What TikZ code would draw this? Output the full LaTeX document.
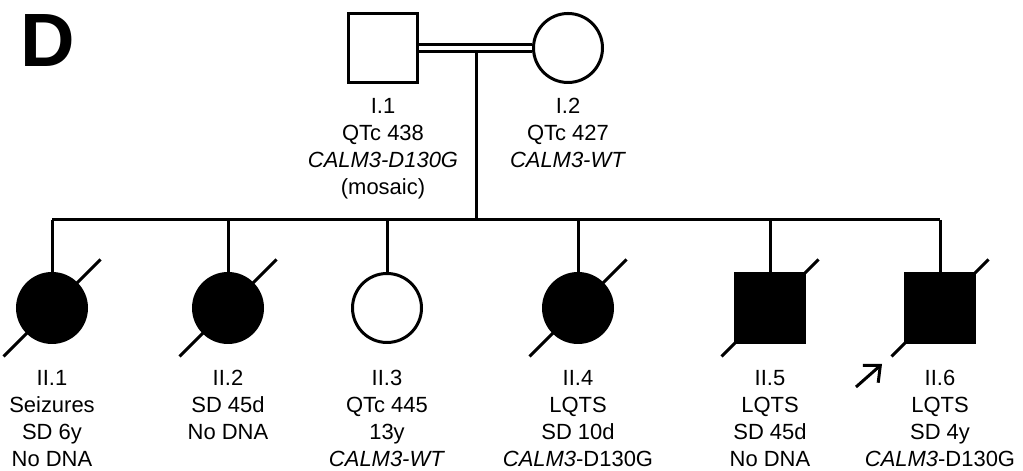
\documentclass[tikz,border=0pt]{standalone}
\usepackage{fontspec}
\setmainfont{Liberation Sans}
\usetikzlibrary{arrows.meta, positioning, calc}
\newcommand{\deceased}[1]{%
  \draw ($(#1)+(-0.97,-0.97)$) -- ($(#1)+(0.97,0.97)$);
}
\newcommand{\lbl}{\fontsize{12.5}{15.3}\selectfont}

\begin{document}
\begin{tikzpicture}[line width=0.06cm,
    female/.style={circle, draw, fill=white, minimum size=1.38cm, inner sep=0pt},
    male/.style={rectangle, draw, fill=white, minimum size=1.38cm, inner sep=0pt},
    aff/.style={fill=black},
    lab/.style={align=center, inner sep=0pt, font=\lbl},
    node distance=0.5cm]
  \useasboundingbox (0,0) rectangle (20.46,9.42);
  \node[font=\fontsize{43}{43}\selectfont\bfseries, anchor=base west,
        inner sep=0pt] (panel) at (0.38,8.08) {D};

  % generation I
  \node[male] (p1) at (7.66,8.46) {};
  \node[female] (p2) at (11.36,8.46) {};
  \coordinate (m) at (9.52,8.46);
  \coordinate (sib) at (9.52,5.02);
  \draw (m) -- (sib);
  \draw[double, double distance=0.08cm] (p1) -- (p2);
  \node[lab, below=0.26cm of p1] (t1) {I.1\\QTc 438\\\textit{CALM3-D130G}\\(mosaic)};
  \node[lab, below=0.26cm of p2] (t2) {I.2\\QTc 427\\\textit{CALM3-WT}};

  % generation II
  \node[female, aff] (c1) at (1.04,3.26) {};
  \node[female, aff] (c2) at (4.56,3.26) {};
  \node[female] (c3) at (7.74,3.26) {};
  \node[female, aff] (c4) at (11.56,3.26) {};
  \node[male, aff] (c5) at (15.4,3.26) {};
  \node[male, aff] (c6) at (18.8,3.26) {};
  \draw (c1 |- sib) -- (c6 |- sib);
  \foreach \i in {1,...,6} \draw (c\i |- sib) -- (c\i);
  \foreach \i in {1,2,4,5,6} {\deceased{c\i}}

  \node[lab, below=of c1] (u1) {II.1\\Seizures\\SD 6y\\No DNA};
  \node[lab, below=of c2] (u2) {II.2\\SD 45d\\No DNA};
  \node[lab, below=of c3] (u3) {II.3\\QTc 445\\13y\\\textit{CALM3-WT}};
  \node[lab, below=of c4] (u4) {II.4\\LQTS\\SD 10d\\\textit{CALM3}-D130G};
  \node[lab, below=of c5] (u5) {II.5\\LQTS\\SD 45d\\No DNA};
  \node[lab, below=of c6] (u6) {II.6\\LQTS\\SD 4y\\\textit{CALM3}-D130G};

  % proband
  \coordinate (pb) at ($(c6)+(-1.68,-1.58)$);
  \coordinate (pa) at ($(c6)+(-1.16,-1.12)$);
  \draw[-{Straight Barb[length=0.26cm, width=0.46cm]}] (pb) -- (pa);
\end{tikzpicture}
\end{document}
